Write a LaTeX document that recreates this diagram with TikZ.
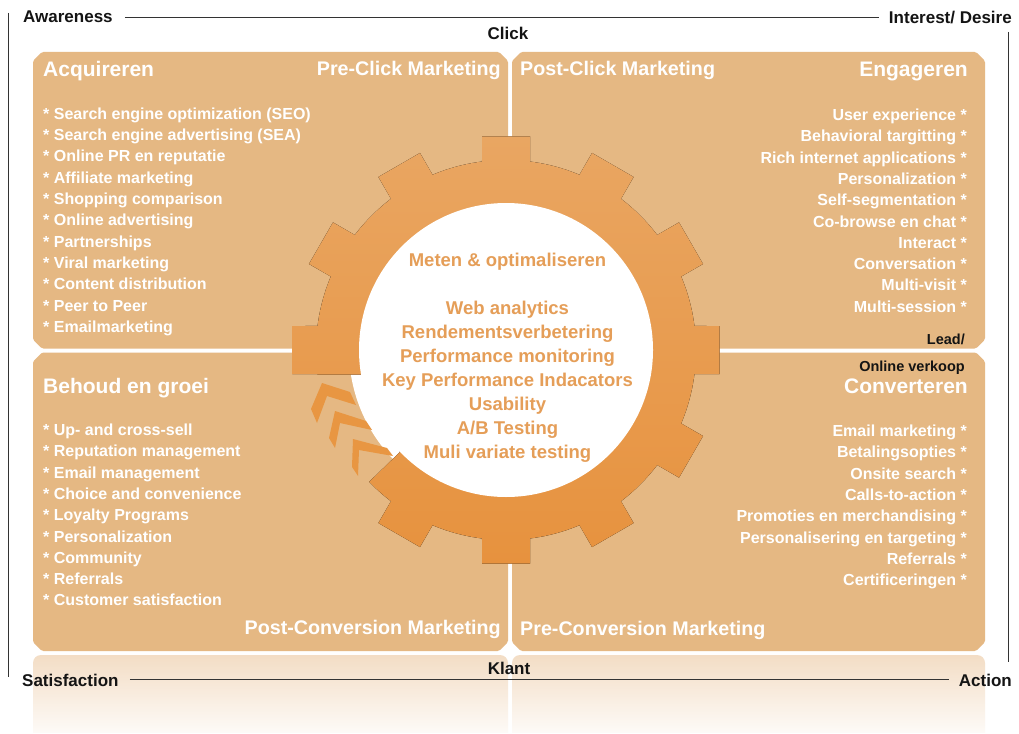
\documentclass[tikz,border=0pt]{standalone}
\usepackage{fontspec}
\setmainfont{Liberation Sans}
\definecolor{boxc}{RGB}{229,184,131}
\definecolor{gearA}{RGB}{233,166,98}
\definecolor{gearB}{RGB}{231,146,62}
\definecolor{ctext}{RGB}{229,158,88}
\definecolor{refl}{RGB}{243,221,197}
\definecolor{lab}{RGB}{20,20,20}
\definecolor{chev}{RGB}{232,150,66}
\newcommand{\fsz}[1]{\fontsize{#1}{#1}\selectfont\bfseries}
\begin{document}
\begin{tikzpicture}[x=1pt,y=-1pt,
  quad/.style={fill=boxc, rounded corners=1.5pt},
  item/.style={text=white, font=\fsz{16}, inner sep=0pt},
  ttl/.style={text=white, font=\fsz{21}, inner sep=0pt},
  mkt/.style={text=white, font=\fsz{19.7}, inner sep=0pt},
  lbl/.style={text=lab, font=\fsz{17}, inner sep=0pt},
  slbl/.style={text=lab, font=\fsz{14.5}, inner sep=0pt},
  ctr/.style={text=ctext, font=\fsz{18.5}, inner sep=0pt},
  axis/.style={draw=black!80, line width=0.9pt},
  chevron/.style={fill=chev}]
\useasboundingbox[fill=white] (0,0) rectangle (1019,733);

% reflection below the quadrants
\shade[top color=refl, bottom color=white, rounded corners=8pt] (33,655) rectangle (508,745);
\shade[top color=refl, bottom color=white, rounded corners=8pt] (512,655) rectangle (985,745);
\fill[white] (0,733) rectangle (1019,750);

% quadrants
\fill[quad] (42,52) -- (499,52) -- (508,61) -- (508,339.5) -- (499,348.5) -- (42,348.5) -- (33,339.5) -- (33,61) -- cycle;
\fill[quad] (521,52) -- (976,52) -- (985,61) -- (985,339.5) -- (976,348.5) -- (521,348.5) -- (512,339.5) -- (512,61) -- cycle;
\fill[quad] (42,352.5) -- (499,352.5) -- (508,361.5) -- (508,642) -- (499,651) -- (42,651) -- (33,642) -- (33,361.5) -- cycle;
\fill[quad] (521,352.5) -- (976,352.5) -- (985,361.5) -- (985,642) -- (976,651) -- (521,651) -- (512,642) -- (512,361.5) -- cycle;

% gear
\fill[white] (506,350) circle[radius=157];
\begin{scope}
  \clip (250,110) -- (780,110) -- (780,600) -- (250,600) -- (250,517) -- (333,517) -- (400,452) -- (363,374.5) -- (250,374.5) -- cycle;
  \begin{scope}[shift={(506,350)}]
    \fill[top color=gearA, bottom color=gearB] (-7.26:190)
      \foreach \k in {0,30,...,330} {
        -- ({\k-7.26}:190) -- ({\k-6.41}:215) -- ({\k+6.41}:215) -- ({\k+7.26}:190)
        arc[start angle={\k+7.26}, end angle={\k+22.74}, radius=190]
      } -- cycle;
  \end{scope}
\end{scope}
\fill[white] (506,350) circle[radius=147];

% chevrons
\fill[chevron] (322,383) -- (350,392) -- (356,405) -- (327,396) -- (317,423) -- (311,409) -- cycle;
\fill[chevron] (335,411) -- (366,421) -- (372,430) -- (340,423) -- (335,448) -- (329,438) -- cycle;
\fill[chevron] (353,439) -- (387,448) -- (393,456) -- (359,450) -- (358,476) -- (352,467) -- cycle;

% centre text
\foreach \t [count=\i] in {{Web analytics},{Rendementsverbetering},{Performance monitoring},{Key Performance Indacators},{Usability},{A/B Testing},{Muli variate testing}}
  \node[ctr, anchor=base] (c\i) at (507.5,{314.3+(\i-1)*24.1}) {\t};
\node[ctr, anchor=base] (meten) at (507.5,266.7) {Meten \& optimaliseren};

% quadrant titles
\node[ttl, anchor=base west] (acq) at (43,77) {Acquireren};
\node[mkt, anchor=base east] (prec) at (501,76) {Pre-Click Marketing};
\node[mkt, anchor=base west] (postc) at (520,76) {Post-Click Marketing};
\node[ttl, anchor=base east] (eng) at (968,77) {Engageren};
\node[ttl, anchor=base west] (beh) at (43,393) {Behoud en groei};
\node[ttl, anchor=base east] (conv) at (968,393) {Converteren};
\node[mkt, anchor=base east] (postconv) at (501,634) {Post-Conversion Marketing};
\node[mkt, anchor=base west] (preconv) at (520,635) {Pre-Conversion Marketing};

% lists
\foreach \t [count=\i] in {{* Search engine optimization (SEO)},{* Search engine advertising (SEA)},{* Online PR en reputatie},{* Affiliate marketing},{* Shopping comparison},{* Online advertising},{* Partnerships},{* Viral marketing},{* Content distribution},{* Peer to Peer},{* Emailmarketing}}
  \node[item, anchor=base west] (tl\i) at (43,{119.3+(\i-1)*21.3}) {\t};
\foreach \t [count=\i] in {{User experience *},{Behavioral targitting *},{Rich internet applications *},{Personalization *},{Self-segmentation *},{Co-browse en chat *},{Interact *},{Conversation *},{Multi-visit *},{Multi-session *}}
  \node[item, anchor=base east] (tr\i) at (967,{120.5+(\i-1)*21.3}) {\t};
\foreach \t [count=\i] in {{* Up- and cross-sell},{* Reputation management},{* Email management},{* Choice and convenience},{* Loyalty Programs},{* Personalization},{* Community},{* Referrals},{* Customer satisfaction}}
  \node[item, anchor=base west] (bl\i) at (43,{435.5+(\i-1)*21.3}) {\t};
\foreach \t [count=\i] in {{Email marketing *},{Betalingsopties *},{Onsite search *},{Calls-to-action *},{Promoties en merchandising *},{Personalisering en targeting *},{Referrals *},{Certificeringen *}}
  \node[item, anchor=base east] (br\i) at (967,{436.5+(\i-1)*21.3}) {\t};

% black labels
\node[lbl, anchor=base west] (aw) at (23,23) {Awareness};
\node[lbl, anchor=base] (click) at (508,39.5) {Click};
\node[lbl, anchor=base east] (int) at (1012,23.5) {Interest/ Desire};
\node[lbl, anchor=base] (klant) at (509,674) {Klant};
\node[lbl, anchor=base west] (sat) at (22,686) {Satisfaction};
\node[lbl, anchor=base east] (act) at (1012,686) {Action};
\node[slbl, anchor=base east] (lead) at (965,344) {Lead/};
\node[slbl, anchor=base east] (onl) at (965,371.5) {Online verkoop};

% axes
\draw[axis] ([xshift=12pt]aw.east) -- ([xshift=-10pt]aw.east -| int.west);
\draw[axis] ([xshift=11pt]sat.east) -- ([xshift=-10pt]sat.east -| act.west);
\coordinate (lt) at (8.5,13);
\coordinate (lb) at (8.5,677);
\coordinate (rt) at (1008,32);
\coordinate (rb) at (1008,662);
\draw[axis] (lt) -- (lb);
\draw[axis] (rt) -- (rb);
\end{tikzpicture}
\end{document}
